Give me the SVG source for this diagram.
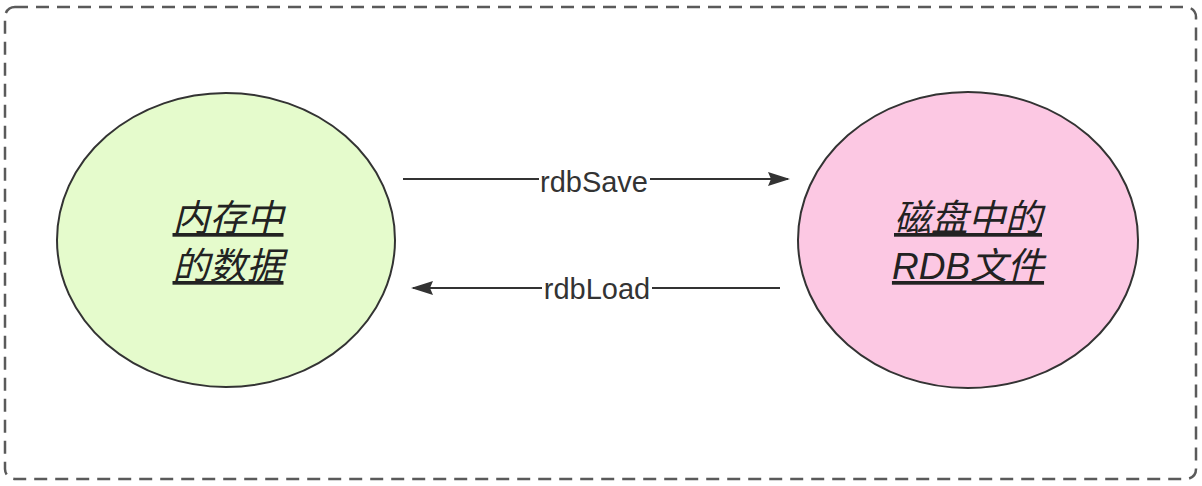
<svg xmlns="http://www.w3.org/2000/svg" width="1202" height="486" viewBox="0 0 1202 486">
<defs>
<style>
.frame{fill:none;stroke:#5a5a5a;stroke-width:2.5;stroke-dasharray:13 8}
.node{stroke:#333;stroke-width:2}
.nt{font-family:"Liberation Sans","Noto Sans CJK SC",sans-serif;font-size:37px;font-style:italic;fill:#222;text-anchor:middle;text-decoration:underline}
.edge{stroke:#333;stroke-width:2;fill:none}
.el{font-family:"Liberation Sans","Noto Sans CJK SC",sans-serif;font-size:29px;fill:#333;text-anchor:middle}
.lbg{fill:#fff}
</style>
<marker id="arr" markerWidth="11" markerHeight="7" refX="10" refY="3.5" orient="auto" markerUnits="strokeWidth">
<path d="M0,0 L11,3.5 L0,7 L1.5,3.5 Z" fill="#333"/>
</marker>
</defs>
<rect class="frame" x="5" y="7" width="1191" height="472" rx="10" ry="10"/>
<g id="mem">
<ellipse class="node" cx="226" cy="240" rx="169" ry="147" fill="#e5fbcc"/>
<text class="nt" x="228" y="231">内存中</text>
<text class="nt" x="228" y="279">的数据</text>
</g>
<g id="rdb">
<ellipse class="node" cx="968" cy="240" rx="170" ry="148" fill="#fcc8e3"/>
<text class="nt" x="968" y="231">磁盘中的</text>
<text class="nt" x="968" y="279">RDB文件</text>
</g>
<g id="connectors">
<line class="edge" x1="403" y1="179" x2="788" y2="179" marker-end="url(#arr)"/>
<rect class="lbg" x="539" y="165" width="111" height="30"/>
<text class="el" x="594" y="192">rdbSave</text>
<line class="edge" x1="780" y1="288" x2="413" y2="288" marker-end="url(#arr)"/>
<rect class="lbg" x="542" y="274" width="110" height="30"/>
<text class="el" x="597" y="299">rdbLoad</text>
</g>
</svg>
